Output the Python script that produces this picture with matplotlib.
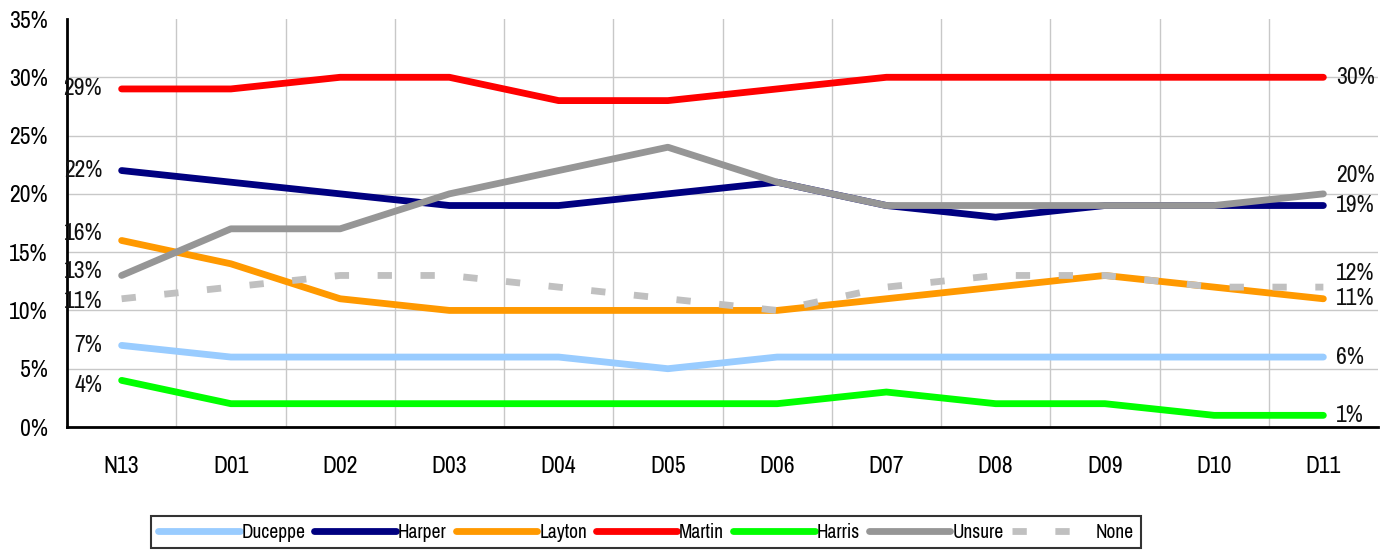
import matplotlib
matplotlib.use("Agg")
import matplotlib.pyplot as plt

plt.rcParams['font.family'] = ['Archivo Narrow', 'DejaVu Sans']

categories = ["N13", "D01", "D02", "D03", "D04", "D05", "D06", "D07", "D08", "D09", "D10", "D11"]
duceppe = [7, 6, 6, 6, 6, 5, 6, 6, 6, 6, 6, 6]
harper = [22, 21, 20, 19, 19, 20, 21, 19, 18, 19, 19, 19]
layton = [16, 14, 11, 10, 10, 10, 10, 11, 12, 13, 12, 11]
martin = [29, 29, 30, 30, 28, 28, 29, 30, 30, 30, 30, 30]
harris = [4, 2, 2, 2, 2, 2, 2, 3, 2, 2, 1, 1]
unsure = [13, 17, 17, 20, 22, 24, 21, 19, 19, 19, 19, 20]
none_ = [11, 12, 13, 13, 12, 11, 10, 12, 13, 13, 12, 12]

series_names = ["Duceppe", "Harper", "Layton", "Martin", "Harris", "Unsure", "None"]
series_values = [duceppe, harper, layton, martin, harris, unsure, none_]
colors = ["#99CCFF", "#000080", "#FF9900", "#FF0000", "#00FF00", "#969696", "#C0C0C0"]

# label vertical nudges (points) to avoid overlaps
left_nudge = {"Duceppe": 0, "Harper": 0, "Layton": 5, "Martin": 0, "Harris": -4, "Unsure": 3, "None": -2}
right_nudge = {"Duceppe": 0, "Harper": 0, "Layton": 0, "Martin": 0, "Harris": 0, "Unsure": 13, "None": 10}

fig = plt.figure(figsize=(13.87, 5.54), dpi=100)
ax = fig.add_axes([67/1387, 127/554, (1378-67)/1387, (427-19)/554])

x = list(range(len(categories)))
handles = []
for name, vals, c in zip(series_names, series_values, colors):
    if name == "None":
        ln, = ax.plot(x, vals, color=c, lw=4.9, dashes=(2.1, 4.2), solid_capstyle='butt',
                      dash_capstyle='butt', zorder=3)
    else:
        ln, = ax.plot(x, vals, color=c, lw=4.9, solid_capstyle='round', solid_joinstyle='round', zorder=3)
    handles.append(ln)
    ax.annotate(f"{vals[0]}%", xy=(x[0], vals[0]), xytext=(-14, left_nudge[name]),
                textcoords='offset points', ha='right', va='center', fontsize=17, color='#111111')
    ax.annotate(f"{vals[-1]}%", xy=(x[-1], vals[-1]), xytext=(9, right_nudge[name]),
                textcoords='offset points', ha='left', va='center', fontsize=17, color='#111111')

ax.set_xlim(-0.5, len(categories) - 0.5)
ax.set_ylim(0, 35)
ax.set_xticks(x)
ax.set_xticklabels(categories, fontsize=17)
ax.set_xticks([i + 0.5 for i in x[:-1]], minor=True)
ax.set_yticks(range(0, 36, 5))
ax.set_yticklabels([f"{v}%" for v in range(0, 36, 5)], fontsize=17)
ax.tick_params(axis='x', which='both', length=0, pad=21)
ax.tick_params(axis='y', length=0, pad=14)

ax.grid(axis='y', which='major', color='#C8C8C8', lw=1)
ax.grid(axis='x', which='minor', color='#C8C8C8', lw=1)
gl = ax.yaxis.get_gridlines()
gl[-1].set_visible(False)
ax.set_axisbelow(True)

for s in ['top', 'right']:
    ax.spines[s].set_visible(False)
ax.spines['left'].set_linewidth(2)
ax.spines['bottom'].set_linewidth(2)

leg = fig.legend(handles, series_names, loc='center', bbox_to_anchor=(646/1387, 1 - 532/554),
                 ncol=7, frameon=True, fancybox=False, edgecolor='black', fontsize=14,
                 handlelength=4.2, handletextpad=0.1, columnspacing=0.45, borderpad=0.35,
                 borderaxespad=0)
leg.get_frame().set_linewidth(1.5)

fig.savefig("out.png", dpi=100)
